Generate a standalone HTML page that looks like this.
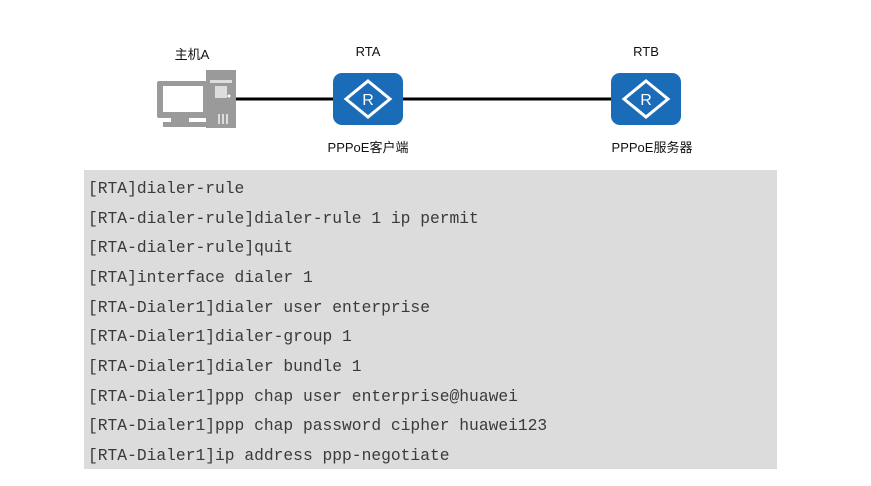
<!DOCTYPE html>
<html><head><meta charset="utf-8"><style>
body{margin:0;width:871px;height:486px;background:#fff;position:relative;overflow:hidden;font-family:"Liberation Sans","Noto Sans CJK SC",sans-serif;}
.lbl{position:absolute;font-size:13px;color:#111;text-align:center;width:120px;}
.code{position:absolute;left:84px;top:170px;width:693px;height:299px;background:#dddcdc;}
.code div{position:absolute;left:4px;font-family:"Liberation Mono",monospace;font-size:16.3px;color:#3a3a3a;white-space:pre;}
</style></head><body>
<svg width="871" height="486" style="position:absolute;left:0;top:0">
<line x1="232" y1="99" x2="612" y2="99" stroke="#000" stroke-width="3"/>
<rect x="157" y="81" width="52" height="37" rx="2" fill="#9a9a9a"/>
<rect x="163" y="86" width="40" height="26" fill="#fff"/>
<rect x="171" y="118" width="18" height="5" fill="#9a9a9a"/>
<rect x="163" y="122" width="48" height="5" fill="#9a9a9a"/>
<rect x="206" y="70" width="30" height="58" fill="#9a9a9a"/>
<rect x="210" y="80" width="22" height="3" fill="#ddd"/>
<rect x="215" y="86" width="12" height="12" fill="#ddd"/>
<circle cx="229" cy="96" r="1.5" fill="#fff"/>
<g fill="#ddd"><rect x="218" y="114" width="2" height="10"/><rect x="222" y="114" width="2" height="10"/><rect x="226" y="114" width="2" height="10"/></g>
<g><rect x="333" y="73" width="70" height="52" rx="9" fill="#1a6cb8"/>
<polygon points="368,81 390,99 368,117 346,99" fill="none" stroke="#fff" stroke-width="3"/>
<text x="368" y="105" font-family="Liberation Sans" font-size="16" fill="#fff" text-anchor="middle">R</text></g>
<g transform="translate(278,0)"><rect x="333" y="73" width="70" height="52" rx="9" fill="#1a6cb8"/>
<polygon points="368,81 390,99 368,117 346,99" fill="none" stroke="#fff" stroke-width="3"/>
<text x="368" y="105" font-family="Liberation Sans" font-size="16" fill="#fff" text-anchor="middle">R</text></g>
</svg>
<div class="lbl" style="left:132px;top:44px">主机A</div>
<div class="lbl" style="left:308px;top:44px">RTA</div>
<div class="lbl" style="left:586px;top:44px">RTB</div>
<div class="lbl" style="left:308px;top:137px">PPPoE客户端</div>
<div class="lbl" style="left:592px;top:137px">PPPoE服务器</div>
<div class="code">
<div style="top:9px">[RTA]dialer-rule</div>
<div style="top:39px">[RTA-dialer-rule]dialer-rule 1 ip permit</div>
<div style="top:68px">[RTA-dialer-rule]quit</div>
<div style="top:98px">[RTA]interface dialer 1</div>
<div style="top:128px">[RTA-Dialer1]dialer user enterprise</div>
<div style="top:157px">[RTA-Dialer1]dialer-group 1</div>
<div style="top:187px">[RTA-Dialer1]dialer bundle 1</div>
<div style="top:217px">[RTA-Dialer1]ppp chap user enterprise@huawei</div>
<div style="top:246px">[RTA-Dialer1]ppp chap password cipher huawei123</div>
<div style="top:276px">[RTA-Dialer1]ip address ppp-negotiate</div>
</div>
</body></html>
